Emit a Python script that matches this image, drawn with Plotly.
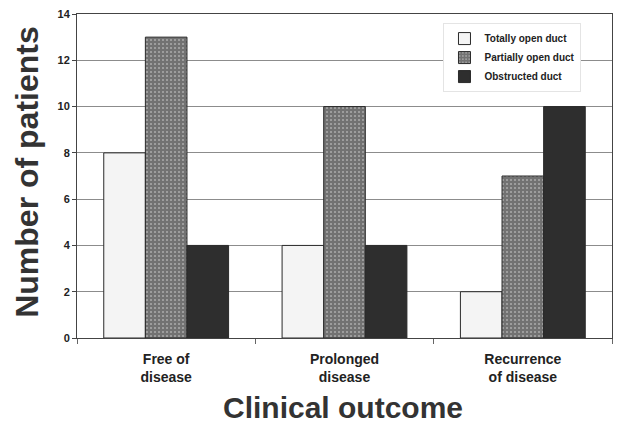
import plotly.graph_objects as go

categories = ["Free of<br>disease", "Prolonged<br>disease", "Recurrence<br>of disease"]
totally_open = [8, 4, 2]
partially_open = [13, 10, 7]
obstructed = [4, 4, 10]
y_ticks = [0, 2, 4, 6, 8, 10, 12, 14]

line = dict(color="#2a2a2a", width=1)

fig = go.Figure()
fig.add_trace(go.Bar(
    name="Totally open duct", x=categories, y=totally_open,
    marker=dict(color="#f4f4f4", line=line),
))
fig.add_trace(go.Bar(
    name="Partially open duct", x=categories, y=partially_open,
    marker=dict(color="#7a7a7a", line=line,
                pattern=dict(shape=".", fgcolor="#e6e6e6", bgcolor="#727272",
                             size=4, solidity=0.2)),
))
fig.add_trace(go.Bar(
    name="Obstructed duct", x=categories, y=obstructed,
    marker=dict(color="#2e2e2e", line=line),
))

fig.update_layout(
    width=631, height=415,
    margin=dict(l=69, r=27, t=6, b=85, autoexpand=False),
    paper_bgcolor="white", plot_bgcolor="white",
    barmode="group", bargap=0.3, bargroupgap=0,
    font=dict(family="Liberation Sans, Arial, sans-serif", color="#222222"),
    showlegend=True,
    legend=dict(
        x=0.685, y=0.972, xanchor="left", yanchor="top",
        font=dict(size=10, weight="bold", color="#222222"),
        bgcolor="white", bordercolor="#e4e4e4", borderwidth=1,
        tracegroupgap=0, itemwidth=30,
    ),
    xaxis=dict(
        automargin=False,
        showline=True, linecolor="#444444", linewidth=1, mirror=True,
        tickfont=dict(size=14, weight="bold", color="#222222"),
        ticks="outside", tickson="boundaries", ticklen=5, tickcolor="#666666",
        ticklabelstandoff=8,
    ),
    yaxis=dict(
        automargin=False,
        range=[0, 14], tickvals=y_ticks,
        showline=True, linecolor="#444444", linewidth=1, mirror=True,
        showgrid=True, gridcolor="#8c8c8c", gridwidth=1,
        tickfont=dict(size=11, weight="bold", color="#222222"),
        ticks="outside", ticklen=4, tickcolor="#444444",
        ticklabeloverflow="allow",
        zeroline=False,
    ),
    annotations=[
        dict(text="Number of patients", xref="paper", yref="paper",
             x=-0.094, y=0.512, xanchor="center", yanchor="middle",
             textangle=-90, showarrow=False,
             font=dict(size=32, weight="bold", color="#333333")),
        dict(text="Clinical outcome", xref="paper", yref="paper",
             x=0.497, y=-0.215, xanchor="center", yanchor="middle",
             showarrow=False,
             font=dict(size=30, weight="bold", color="#333333")),
    ],
)

fig.write_html("out.html")
